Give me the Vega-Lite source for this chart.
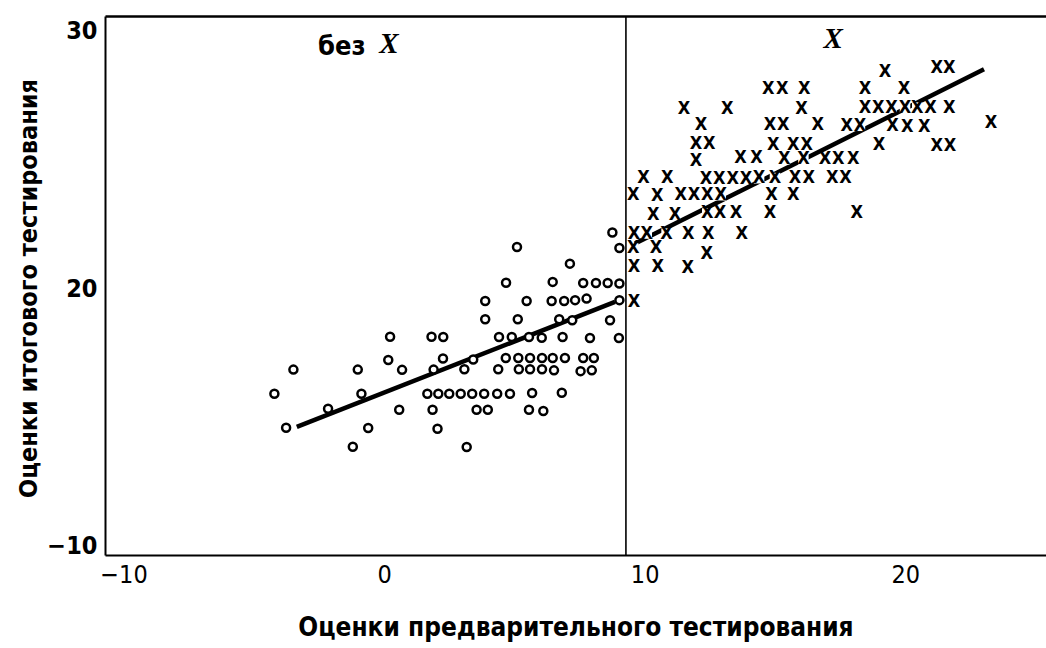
{
  "$schema": "https://vega.github.io/schema/vega-lite/v6.json",
  "width": 941,
  "height": 539,
  "autosize": {"type": "none"},
  "padding": {"left": 105, "top": 16, "right": 0, "bottom": 93},
  "background": "white",
  "config": {
    "view": {"stroke": null},
    "axis": {"grid": false, "domainColor": "black", "domainWidth": 2, "labelColor": "black", "titleColor": "black", "ticks": false, "tickSize": 0, "labelOverlap": false, "labelFlush": false}
  },
  "datasets": {
    "circles": [
      {"x": -4.21, "y": 15.89}, {"x": -3.76, "y": 14.57}, {"x": -3.48, "y": 16.83}, {"x": -2.15, "y": 15.31},
      {"x": -1.20, "y": 13.83}, {"x": -1.01, "y": 16.83}, {"x": -0.87, "y": 15.89}, {"x": -0.61, "y": 14.56},
      {"x": 0.16, "y": 17.20}, {"x": 0.23, "y": 18.11}, {"x": 0.58, "y": 15.27}, {"x": 0.69, "y": 16.82},
      {"x": 1.66, "y": 15.89}, {"x": 1.82, "y": 18.11}, {"x": 1.86, "y": 15.27}, {"x": 1.90, "y": 16.83},
      {"x": 2.05, "y": 14.53}, {"x": 2.08, "y": 15.89}, {"x": 2.27, "y": 18.10}, {"x": 2.26, "y": 17.26},
      {"x": 2.50, "y": 15.89}, {"x": 2.94, "y": 15.89}, {"x": 3.08, "y": 16.84}, {"x": 3.17, "y": 13.82},
      {"x": 3.38, "y": 15.89}, {"x": 3.42, "y": 17.22}, {"x": 3.55, "y": 15.27}, {"x": 3.84, "y": 15.89},
      {"x": 3.88, "y": 19.50}, {"x": 3.88, "y": 18.79}, {"x": 3.98, "y": 15.27}, {"x": 4.34, "y": 15.89},
      {"x": 4.38, "y": 16.84}, {"x": 4.41, "y": 18.10}, {"x": 4.67, "y": 17.28}, {"x": 4.68, "y": 20.21},
      {"x": 4.83, "y": 15.89}, {"x": 4.90, "y": 18.10}, {"x": 5.10, "y": 21.60}, {"x": 5.13, "y": 18.79},
      {"x": 5.15, "y": 17.28}, {"x": 5.17, "y": 16.84}, {"x": 5.47, "y": 19.50}, {"x": 5.56, "y": 18.10},
      {"x": 5.56, "y": 15.27}, {"x": 5.60, "y": 17.28}, {"x": 5.60, "y": 16.84}, {"x": 5.68, "y": 15.92},
      {"x": 6.05, "y": 18.07}, {"x": 6.06, "y": 17.28}, {"x": 6.06, "y": 16.84}, {"x": 6.11, "y": 15.22},
      {"x": 6.43, "y": 19.50}, {"x": 6.47, "y": 20.24}, {"x": 6.47, "y": 17.28}, {"x": 6.52, "y": 16.80},
      {"x": 6.72, "y": 18.79}, {"x": 6.82, "y": 15.93}, {"x": 6.85, "y": 18.10}, {"x": 6.91, "y": 19.50},
      {"x": 6.94, "y": 17.28}, {"x": 7.13, "y": 20.95}, {"x": 7.22, "y": 18.75}, {"x": 7.33, "y": 19.53},
      {"x": 7.54, "y": 16.77}, {"x": 7.64, "y": 20.20}, {"x": 7.64, "y": 17.28}, {"x": 7.77, "y": 19.59},
      {"x": 7.90, "y": 18.06}, {"x": 7.97, "y": 16.80}, {"x": 8.05, "y": 17.28}, {"x": 8.13, "y": 20.20},
      {"x": 8.58, "y": 20.20}, {"x": 8.67, "y": 18.75}, {"x": 8.76, "y": 22.16}, {"x": 9.03, "y": 21.56},
      {"x": 9.03, "y": 20.18}, {"x": 9.03, "y": 19.53}, {"x": 9.01, "y": 18.06}
    ],
    "crosses": [
      {"x": 19.22, "y": 28.41}, {"x": 21.21, "y": 28.54}, {"x": 21.69, "y": 28.54},
      {"x": 14.74, "y": 27.76}, {"x": 15.28, "y": 27.76}, {"x": 16.12, "y": 27.76}, {"x": 18.45, "y": 27.76}, {"x": 19.95, "y": 27.76},
      {"x": 11.51, "y": 26.98}, {"x": 13.17, "y": 26.98}, {"x": 16.02, "y": 26.96}, {"x": 18.45, "y": 27.02}, {"x": 18.96, "y": 27.02},
      {"x": 19.47, "y": 27.02}, {"x": 19.99, "y": 27.02}, {"x": 20.46, "y": 27.02}, {"x": 20.97, "y": 27.02}, {"x": 21.69, "y": 27.02},
      {"x": 12.16, "y": 26.36}, {"x": 14.81, "y": 26.33}, {"x": 15.32, "y": 26.33}, {"x": 16.64, "y": 26.33}, {"x": 17.75, "y": 26.31},
      {"x": 18.26, "y": 26.31}, {"x": 19.51, "y": 26.30}, {"x": 20.08, "y": 26.27}, {"x": 20.73, "y": 26.27}, {"x": 23.29, "y": 26.40},
      {"x": 11.97, "y": 25.62}, {"x": 12.48, "y": 25.62}, {"x": 14.93, "y": 25.58}, {"x": 15.70, "y": 25.58}, {"x": 16.22, "y": 25.58},
      {"x": 18.99, "y": 25.58}, {"x": 21.21, "y": 25.53}, {"x": 21.72, "y": 25.53},
      {"x": 11.97, "y": 24.93}, {"x": 13.68, "y": 25.04}, {"x": 14.29, "y": 25.04}, {"x": 15.36, "y": 25.01}, {"x": 16.09, "y": 25.01},
      {"x": 16.92, "y": 25.01}, {"x": 17.43, "y": 25.01}, {"x": 18.00, "y": 25.01},
      {"x": 9.95, "y": 24.28}, {"x": 10.87, "y": 24.28}, {"x": 12.35, "y": 24.26}, {"x": 12.86, "y": 24.26}, {"x": 13.38, "y": 24.26},
      {"x": 13.89, "y": 24.26}, {"x": 14.39, "y": 24.27}, {"x": 15.00, "y": 24.28}, {"x": 15.77, "y": 24.28}, {"x": 16.30, "y": 24.28},
      {"x": 17.20, "y": 24.28}, {"x": 17.71, "y": 24.28},
      {"x": 9.56, "y": 23.61}, {"x": 10.48, "y": 23.58}, {"x": 11.38, "y": 23.61}, {"x": 11.89, "y": 23.61}, {"x": 12.40, "y": 23.61},
      {"x": 12.92, "y": 23.61}, {"x": 14.87, "y": 23.61}, {"x": 15.70, "y": 23.61},
      {"x": 10.33, "y": 22.86}, {"x": 11.16, "y": 22.86}, {"x": 12.40, "y": 22.90}, {"x": 12.89, "y": 22.90}, {"x": 13.50, "y": 22.90},
      {"x": 14.81, "y": 22.92}, {"x": 18.14, "y": 22.92},
      {"x": 9.59, "y": 22.12}, {"x": 10.08, "y": 22.12}, {"x": 10.84, "y": 22.12}, {"x": 11.67, "y": 22.12}, {"x": 12.44, "y": 22.12}, {"x": 13.72, "y": 22.09},
      {"x": 9.56, "y": 21.54}, {"x": 10.43, "y": 21.54}, {"x": 12.38, "y": 21.32},
      {"x": 9.59, "y": 20.82}, {"x": 10.50, "y": 20.82}, {"x": 11.65, "y": 20.78},
      {"x": 9.59, "y": 19.46}
    ],
    "fits": [
      {"g": "без X", "x": -3.35, "y": 14.60}, {"g": "без X", "x": 8.86, "y": 19.46},
      {"g": "X", "x": 9.63, "y": 21.73}, {"g": "X", "x": 23.02, "y": 28.51}
    ],
    "cutoff": [{"x": 9.28}],
    "notes": [
      {"kind": "plain", "t": "без", "x": -1.62, "y": 29.06},
      {"kind": "ital", "t": "X", "x": 0.19, "y": 29.14},
      {"kind": "ital", "t": "X", "x": 17.23, "y": 29.33}
    ]
  },
  "layer": [
    {
      "data": {"name": "fits"},
      "mark": {"type": "line", "color": "black", "strokeWidth": 4.5},
      "encoding": {
        "x": {"field": "x", "type": "quantitative", "scale": {"domain": [-10.71, 25.40], "nice": false, "zero": false}, "axis": null},
        "y": {"field": "y", "type": "quantitative", "scale": {"domain": [9.62, 30.58], "nice": false, "zero": false}, "axis": null},
        "detail": {"field": "g"}
      }
    },
    {
      "data": {"name": "circles"},
      "mark": {"type": "point", "shape": "circle", "size": 64, "filled": false, "fill": "white", "stroke": "black", "strokeWidth": 2.5, "opacity": 1},
      "encoding": {
        "x": {"field": "x", "type": "quantitative",
          "axis": {"orient": "bottom", "values": [-10, 0, 10, 20], "labelFont": "DejaVu Sans Condensed", "labelFontSize": 25, "labelFontWeight": "normal", "labelPadding": 7, "labelBaseline": "top",
            "title": "Оценки предварительного тестирования", "titleFont": "DejaVu Sans Condensed", "titleFontSize": 26, "titleFontWeight": "bold", "titleBaseline": "alphabetic", "titleY": 80}},
        "y": {"field": "y", "type": "quantitative",
          "axis": {"orient": "left", "values": [10, 20, 30], "labelExpr": "datum.value == 10 ? '−10' : datum.label", "labelFont": "DejaVu Sans Condensed", "labelFontSize": 25, "labelFontWeight": "bold", "labelPadding": 8, "labelBaseline": "middle",
            "title": "Оценки итогового тестирования", "titleFont": "DejaVu Sans Condensed", "titleFontSize": 25, "titleFontWeight": "bold", "titleAngle": 270, "titleBaseline": "alphabetic", "titleAlign": "center", "titleX": -69, "titleY": 272}}
      }
    },
    {
      "data": {"name": "crosses"},
      "mark": {"type": "point", "shape": "square", "size": 110, "filled": true, "color": "white", "opacity": 1},
      "encoding": {
        "x": {"field": "x", "type": "quantitative", "axis": null},
        "y": {"field": "y", "type": "quantitative", "axis": null}
      }
    },
    {
      "data": {"name": "crosses"},
      "mark": {"type": "text", "text": "X", "font": "DejaVu Sans Condensed", "fontSize": 18, "fontWeight": "bold", "baseline": "middle", "align": "center", "color": "black"},
      "encoding": {
        "x": {"field": "x", "type": "quantitative", "axis": null},
        "y": {"field": "y", "type": "quantitative", "axis": null}
      }
    },
    {
      "data": {"name": "cutoff"},
      "mark": {"type": "rule", "color": "black", "strokeWidth": 1.6},
      "encoding": {
        "x": {"field": "x", "type": "quantitative", "axis": {"orient": "top", "labels": false, "title": null, "domainWidth": 2.5}}
      }
    },
    {
      "data": {"name": "notes"},
      "transform": [{"filter": "datum.kind == 'plain'"}],
      "mark": {"type": "text", "font": "DejaVu Sans Condensed", "fontSize": 27, "fontWeight": "bold", "baseline": "alphabetic", "align": "center", "color": "black"},
      "encoding": {
        "x": {"field": "x", "type": "quantitative", "axis": null},
        "y": {"field": "y", "type": "quantitative", "axis": null},
        "text": {"field": "t"}
      }
    },
    {
      "data": {"name": "notes"},
      "transform": [{"filter": "datum.kind == 'ital'"}],
      "mark": {"type": "text", "font": "Liberation Serif, DejaVu Serif, serif", "fontSize": 29, "fontStyle": "italic", "fontWeight": "bold", "baseline": "alphabetic", "align": "center", "color": "black"},
      "encoding": {
        "x": {"field": "x", "type": "quantitative", "axis": null},
        "y": {"field": "y", "type": "quantitative", "axis": null},
        "text": {"field": "t"}
      }
    }
  ],
  "resolve": {"axis": {"x": "independent", "y": "independent"}}
}
